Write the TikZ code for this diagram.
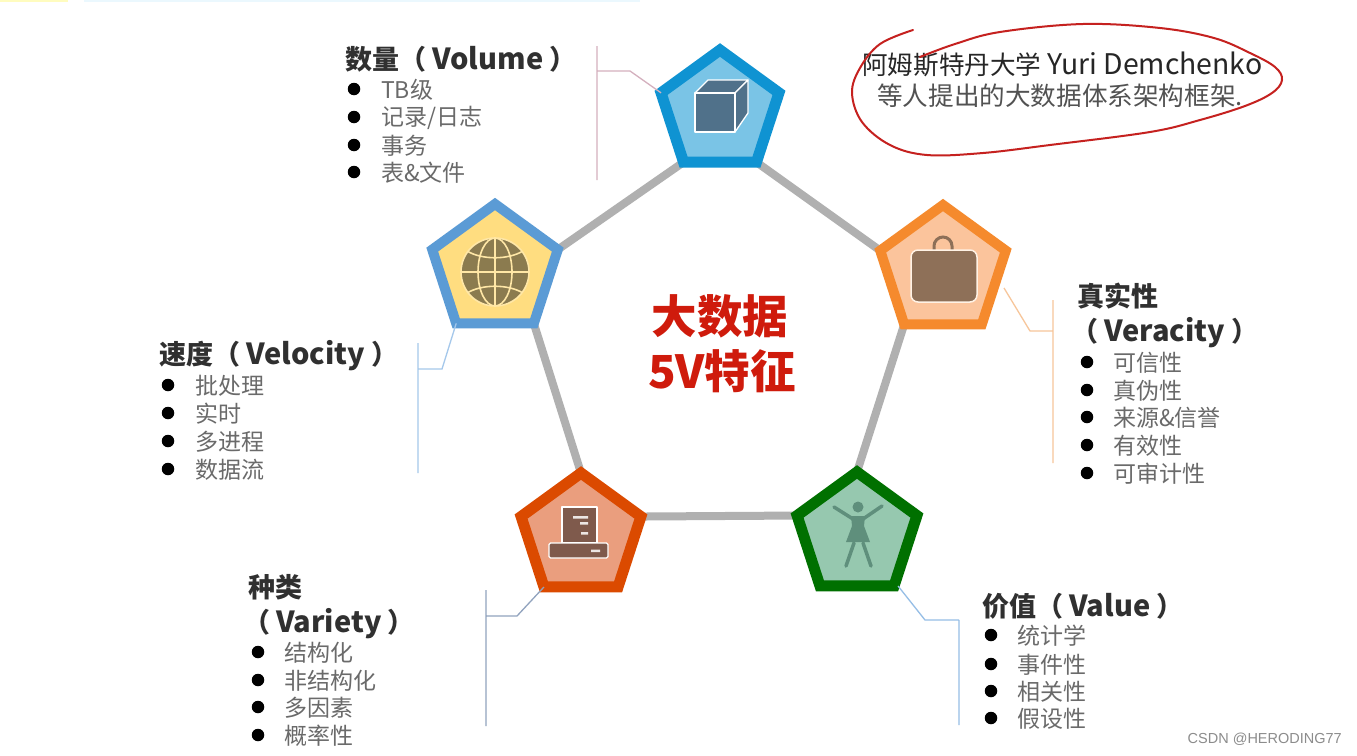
\documentclass[tikz,border=0pt]{standalone}
\usepackage{fontspec}
\setmainfont{Noto Sans CJK SC}
\newfontfamily\wmfont{Liberation Sans}
\usetikzlibrary{shapes.geometric,calc,backgrounds}
\definecolor{ttl}{HTML}{303030}
\definecolor{itm}{HTML}{6A6A6A}
\definecolor{ring}{HTML}{B0B0B0}
\definecolor{redt}{HTML}{CF1B0C}
\definecolor{redl}{HTML}{C5211F}
\definecolor{ts}{HTML}{0F93D2}\definecolor{tf}{HTML}{7AC4E6}\definecolor{ti}{HTML}{50718A}
\definecolor{ls}{HTML}{5B9BD5}\definecolor{lf}{HTML}{FFDD80}\definecolor{li}{HTML}{8B7B4F}
\definecolor{rs}{HTML}{F58A2D}\definecolor{rf}{HTML}{FBC49C}\definecolor{ri}{HTML}{8E7058}
\definecolor{as}{HTML}{DB4A00}\definecolor{af}{HTML}{EA9E7E}\definecolor{ai}{HTML}{7F5A4C}
\definecolor{bs}{HTML}{007000}\definecolor{bf}{HTML}{96C8AF}\definecolor{bi}{HTML}{5F8F7C}
\tikzset{
  x=1pt,y=-1pt,
  penta/.style={regular polygon,regular polygon sides=5,inner sep=0pt,outer sep=0pt,draw,line join=miter},
  ringline/.style={ring,line width=8pt},
  leader/.style={line width=1.3pt},
  ttlbox/.style={anchor=west,inner sep=0pt,text=ttl,font=\fontsize{27}{30}\selectfont\bfseries},
  itmbox/.style={anchor=west,inner sep=0pt,text=itm,font=\fontsize{23}{26}\selectfont},
  dotb/.style={circle,fill=black,inner sep=0pt,minimum size=12.5pt},
  iconw/.style={draw=white,line width=1.3pt,line join=round},
  notebox/.style={anchor=west,inner sep=0pt,font=\fontsize{25.6}{28}\selectfont},
}
\newcommand{\ltn}[1]{{\fontsize{29}{30}\selectfont #1}}
% #1 name, #2 dot x, #3 text x, #4 y, #5 text
\newcommand{\blt}[5]{\node[dotb] (#1d) at (#2,#4) {}; \node[itmbox] (#1t) at (#3,#4+0.5) {#5};}
\begin{document}
\begin{tikzpicture}
\useasboundingbox (0,0) rectangle (1357,755);
\begin{scope}[on background layer]
\fill[white] (0,0) rectangle (1357,755);
\fill[yellow!25] (0,0) rectangle (68,1.5);
\fill[cyan!8] (84,0) rectangle (640,1.5);
\end{scope}

% pentagons
\node[penta,minimum size=124pt,line width=11pt,draw=ts,fill=tf] (pt) at (720,112) {};
\node[penta,minimum size=132pt,line width=10pt,draw=ls,fill=lf] (pl) at (495,270) {};
\node[penta,minimum size=132pt,line width=10pt,draw=rs,fill=rf] (pr) at (943,271) {};
\node[penta,minimum size=126pt,line width=11pt,draw=as,fill=af] (pa) at (581,536) {};
\node[penta,minimum size=126pt,line width=11pt,draw=bs,fill=bf] (pb) at (857,535) {};

% ring
\begin{scope}[on background layer]
\draw[ringline] (pt.corner 3) -- (pl.corner 5);
\draw[ringline] (pl.corner 4) -- (pa.corner 1);
\draw[ringline] (pa.corner 5) -- (pb.corner 2);
\draw[ringline] (pb.corner 1) -- (pr.corner 3);
\draw[ringline] (pr.corner 2) -- (pt.corner 4);
\end{scope}

% leaders
\coordinate (ct1) at (597,46); \coordinate (ct2) at (597,180); \coordinate (ct3) at (597,71); \coordinate (ct4) at (630,71);
\draw[leader,draw={rgb,255:red,212;green,176;blue,190}] (ct1) -- (ct2) (ct3) -- (ct4) -- (pt.corner 2);
\coordinate (cl1) at (418,343); \coordinate (cl2) at (418,473); \coordinate (cl3) at (418,369); \coordinate (cl4) at (442,369);
\draw[leader,draw={rgb,255:red,165;green,200;blue,235}] (cl1) -- (cl2) (cl3) -- (cl4) -- (pl.corner 3);
\coordinate (cr1) at (1053,300); \coordinate (cr2) at (1053,463); \coordinate (cr3) at (1053,331); \coordinate (cr4) at (1030,331); \coordinate (cr5) at (1004,288);
\draw[leader,draw={rgb,255:red,247;green,198;blue,155}] (cr1) -- (cr2) (cr3) -- (cr4) -- (cr5);
\coordinate (ca1) at (486,590); \coordinate (ca2) at (486,726); \coordinate (ca3) at (486,616); \coordinate (ca4) at (517,616);
\draw[leader,draw={rgb,255:red,145;green,163;blue,190}] (ca1) -- (ca2) (ca3) -- (ca4) -- (pa.corner 3);
\coordinate (cb1) at (959,620); \coordinate (cb2) at (959,725); \coordinate (cb4) at (925,620);
\draw[leader,draw={rgb,255:red,150;green,190;blue,230}] (cb1) -- (cb2) (cb1) -- (cb4) -- ($(pb.corner 4)+(4,0)$);

% cube icon
\draw[iconw,fill=ti] (695,93) -- (708,80) -- (748,80) -- (735,93) -- cycle;
\draw[iconw,fill=ti] (735,93) -- (748,80) -- (748,113) -- (735,132) -- cycle;
\draw[iconw,fill=ti] (695,93) rectangle (735,132);

% globe icon
\coordinate (gc) at (495,272);
\fill[li] (gc) circle[radius=34];
\begin{scope}
\clip (gc) circle[radius=34];
\draw[draw=lf!70!white,line width=1.6pt]
  (gc) ellipse[x radius=17,y radius=34]
  (461,272) -- (529,272) (495,238) -- (495,306)
  (467,251) .. controls (482,260) and (508,260) .. (523,251)
  (467,293) .. controls (482,284) and (508,284) .. (523,293);
\end{scope}
\draw[lf!70!white,line width=1.6pt] (gc) circle[radius=34];

% bag icon
\draw[draw=ri,line width=3pt] (934,250) -- (934,246) arc[start angle=180,end angle=360,radius=9] -- (952,250);
\draw[draw=white!90!orange,fill=ri,line width=1.5pt,rounded corners=7pt] (911,250) rectangle (977,302);

% server icon
\draw[iconw,fill=ai] (562,507) rectangle (597,543);
\draw[iconw,fill=ai,rounded corners=1.5pt] (549,543) rectangle (608,558);
\fill[white!85!ai] (573,516) rectangle (588,518.5) (580,522) rectangle (588,524.5) (581,532) rectangle (588,534.5) (591,549.5) rectangle (600,552);

% person icon
\fill[bi] (858,507) circle[radius=5.5];
\draw[bi,line width=3.5pt,line cap=round] (834,507) -- (853,519) (882,506) -- (863,519) (854,543) -- (846,566) (863,543) -- (871,566);
\fill[bi] (851,516) -- (865,516) -- (864,526) -- (870,542) -- (846,542) -- (852,526) -- cycle;

% centre
\node[inner sep=0pt,text=redt,font=\fontsize{45.5}{50}\selectfont\bfseries] (c1) at (720,316) {大数据};
\node[inner sep=0pt,text=redt,font=\fontsize{45.5}{50}\selectfont\bfseries] (c2) at (722,371) {5V特征};

% note
\node[notebox,text=black!85] (n1) at (862,64) {阿姆斯特丹大学 {\fontsize{28.4}{28}\selectfont Yuri Demchenko}};
\node[notebox,text=black!68] (n2) at (877,96) {等人提出的大数据体系架构框架.};
\draw[redl,line width=2pt,line cap=round] plot[smooth,tension=0.6] coordinates {(913,30) (880,44) (860,68) (852,93) (862,122) (890,145) (927,155) (983,153) (1050,145) (1150,132) (1200,120) (1245,106) (1272,93) (1282,80) (1275,67) (1250,53) (1214,38) (1160,28) (1083,24) (1000,32) (955,44) (920,57)};

% volume
\node[ttlbox] (a0) at (345,59.5) {数量（ \ltn{Volume} ）};
\blt{a1}{354}{381}{89}{TB级}
\blt{a2}{354}{381}{117}{记录/日志}
\blt{a3}{354}{381}{145}{事务}
\blt{a4}{354}{381}{172}{表\&文件}

% velocity
\node[ttlbox] (b0) at (159,355.5) {速度（ \ltn{Velocity} ）};
\blt{b1}{168}{195}{385}{批处理}
\blt{b2}{168}{195}{413}{实时}
\blt{b3}{168}{195}{441}{多进程}
\blt{b4}{168}{195}{469}{数据流}

% veracity
\node[ttlbox] (d0) at (1077,296.5) {真实性};
\node[ttlbox] (d9) at (1071,332.5) {（ \ltn{Veracity} ）};
\blt{d1}{1087}{1113}{362}{可信性}
\blt{d2}{1087}{1113}{390}{真伪性}
\blt{d3}{1087}{1113}{417}{来源\&信誉}
\blt{d4}{1087}{1113}{445}{有效性}
\blt{d5}{1087}{1113}{473}{可审计性}

% variety
\node[ttlbox] (e0) at (248,587.5) {种类};
\node[ttlbox] (e9) at (243,623.5) {（ \ltn{Variety} ）};
\blt{e1}{258}{284}{652}{结构化}
\blt{e2}{258}{284}{680}{非结构化}
\blt{e3}{258}{284}{707}{多因素}
\blt{e4}{258}{284}{735}{概率性}

% value
\node[ttlbox] (f0) at (982,606.5) {价值（ \ltn{Value} ）};
\blt{f1}{991}{1017}{635}{统计学}
\blt{f2}{991}{1017}{664}{事件性}
\blt{f3}{991}{1017}{691}{相关性}
\blt{f4}{991}{1017}{718}{假设性}

\node[anchor=east,inner sep=0pt,text=black!45,font=\wmfont\fontsize{14.5}{16}\selectfont] (wm) at (1342,739) {CSDN @HERODING77};
\end{tikzpicture}
\end{document}
